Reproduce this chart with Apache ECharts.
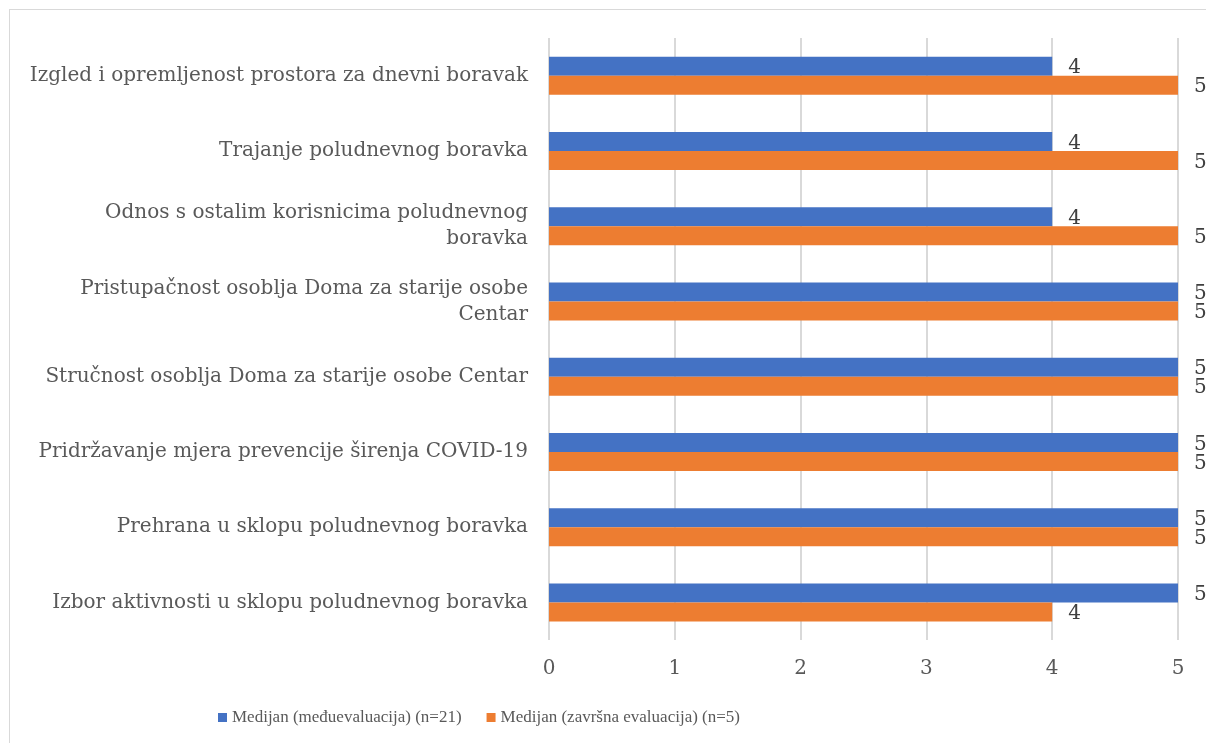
<!DOCTYPE html>
<html>
<head>
<meta charset="utf-8">
<script src="https://cdn.jsdelivr.net/npm/echarts@6/dist/echarts.min.js"></script>
<style>
  html, body { margin: 0; padding: 0; background: #fff; }
  #frame { position: absolute; left: 9px; top: 9px; width: 1200px; height: 740px; border: 1px solid #d9d9d9; box-sizing: border-box; }
  #chart { position: absolute; left: 0; top: 0; width: 1206px; height: 743px; }
</style>
</head>
<body>
<div id="frame"></div>
<div id="chart"></div>
<script>
// kategorije (odozgo prema dolje)
const categories = [
    'Izgled i opremljenost prostora za dnevni boravak',
    'Trajanje poludnevnog boravka',
    'Odnos s ostalim korisnicima poludnevnog\nboravka',
    'Pristupačnost osoblja Doma za starije osobe\nCentar',
    'Stručnost osoblja Doma za starije osobe Centar',
    'Pridržavanje mjera prevencije širenja COVID-19',
    'Prehrana u sklopu poludnevnog boravka',
    'Izbor aktivnosti u sklopu poludnevnog boravka'
];
const seriesNames = ['Medijan (međuevaluacija) (n=21)', 'Medijan (završna evaluacija) (n=5)'];
const medijanMedju = [4, 4, 4, 5, 5, 5, 5, 5];
const medijanZavrsna = [5, 5, 5, 5, 5, 5, 5, 4];
const xTicks = [0, 1, 2, 3, 4, 5];

const font = 'DejaVu Serif';
const myChart = echarts.init(document.getElementById('chart'));

const labelStyle = {
    show: true,
    position: 'right',
    distance: 16,
    offset: [0, 2],
    color: '#404040',
    fontFamily: font,
    fontSize: 20
};

let option = {
    animation: false,
    textStyle: { fontFamily: font },
    grid: { left: 549, right: 28, top: 38, bottom: 103, containLabel: false },
    legend: {
        top: 704,
        left: 213,
        itemWidth: 9,
        itemHeight: 9,
        itemGap: 25,
        icon: 'rect',
        textStyle: { color: '#595959', fontFamily: 'Liberation Serif', fontSize: 17 },
        data: seriesNames
    },
    xAxis: {
        type: 'value',
        min: xTicks[0],
        max: xTicks[xTicks.length - 1],
        interval: 1,
        axisLine: { show: false },
        axisTick: { show: false },
        splitLine: { show: true, lineStyle: { color: '#d9d9d9', width: 2 } },
        axisLabel: { color: '#595959', fontFamily: font, fontSize: 20, margin: 19 }
    },
    yAxis: {
        type: 'category',
        inverse: true,
        data: categories,
        axisLine: { show: false },
        axisTick: { show: false },
        axisLabel: { color: '#595959', fontFamily: font, fontSize: 20, margin: 21, lineHeight: 26, align: 'right' }
    },
    series: [
        {
            name: seriesNames[0],
            type: 'bar',
            data: medijanMedju,
            barWidth: 19,
            barGap: 0,
            itemStyle: { color: '#4472c4' },
            label: labelStyle
        },
        {
            name: seriesNames[1],
            type: 'bar',
            data: medijanZavrsna,
            barWidth: 19,
            barGap: 0,
            itemStyle: { color: '#ed7d31' },
            label: labelStyle
        }
    ]
};
myChart.setOption(option);
</script>
</body>
</html>
